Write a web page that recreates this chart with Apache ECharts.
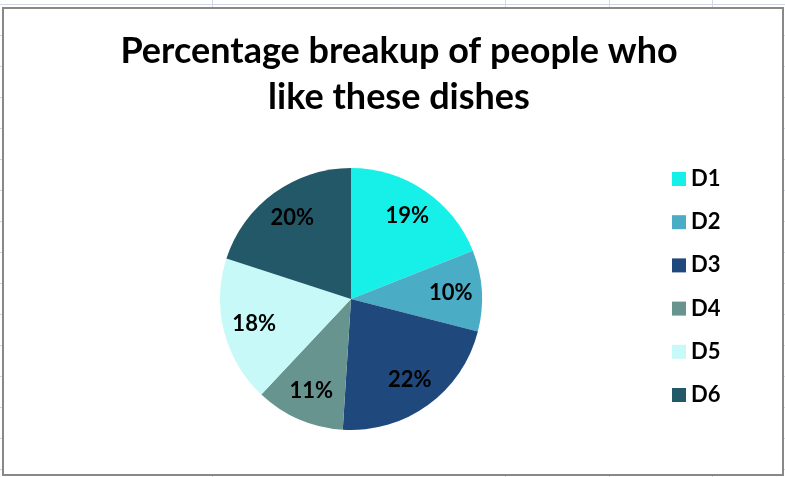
<!DOCTYPE html>
<html>
<head>
<meta charset="utf-8">
<script src="https://cdn.jsdelivr.net/npm/echarts@6/dist/echarts.min.js"></script>
<style>
html,body{margin:0;padding:0;background:#fff;}
#c{width:785px;height:477px;}
</style>
</head>
<body>
<div id="c"></div>
<script>
const categories = ['D1','D2','D3','D4','D5','D6'];
const values = [19, 10, 22, 11, 18, 20];
const colors = ['#17F0E9','#4BACC6','#1F497D','#67948F','#C6F9F7','#225868'];
const titleText = 'Percentage breakup of people who\nlike these dishes';

const FONT = 'Lato';
const chart = echarts.init(document.getElementById('c'), null, {renderer:'canvas'});

// spreadsheet gridlines behind the chart area (decoration)
const gridGraphics = [];
const gridColor = '#D0D7E5';
for (let y = 4; y < 477; y += 31) {
  gridGraphics.push({type:'line', silent:true, z:-10,
    shape:{x1:0,y1:y+0.5,x2:785,y2:y+0.5}, style:{stroke:gridColor, lineWidth:1}});
}
[212, 505, 609, 712].forEach(x => {
  gridGraphics.push({type:'line', silent:true, z:-10,
    shape:{x1:x+0.5,y1:0,x2:x+0.5,y2:477}, style:{stroke:gridColor, lineWidth:1}});
});
gridGraphics.push({type:'rect', silent:true, z:-5,
  shape:{x:3, y:8, width:780, height:467},
  style:{fill:'#fff', stroke:'#888888', lineWidth:2}});

const data = categories.map((n,i)=>({name:n, value:values[i], itemStyle:{color:colors[i]}}));

chart.setOption({
  animation:false,
  graphic: gridGraphics,
  title:{
    text:titleText,
    left:394, top:23, textAlign:'center',
    textStyle:{fontFamily:FONT, fontWeight:'bold', fontSize:36, lineHeight:46, color:'#000'}
  },
  legend:{
    orient:'vertical', left:667, top:163,
    itemWidth:14, itemHeight:14, itemGap:21.2,
    icon:'rect',
    data:categories,
    textStyle:{fontFamily:FONT, fontWeight:'bold', fontSize:22, color:'#000'}
  },
  series:[
    {
      type:'pie', name:'main',
      center:[351,299], radius:[0,131],
      startAngle:90, clockwise:true,
      label:{show:false}, labelLine:{show:false},
      emphasis:{disabled:true},
      data:data
    },
    {
      type:'pie', name:'labels',
      center:[351,299], radius:[0,194],
      startAngle:90, clockwise:true, silent:true,
      itemStyle:{color:'rgba(0,0,0,0)'},
      label:{show:true, position:'inside', formatter: p => p.value + '%',
        fontFamily:FONT, fontWeight:'bold', fontSize:22, color:'#000'},
      labelLine:{show:false},
      emphasis:{disabled:true},
      data:categories.map((n,i)=>({name:n, value:values[i], itemStyle:{color:'rgba(0,0,0,0)'}}))
    }
  ]
});
</script>
</body>
</html>
